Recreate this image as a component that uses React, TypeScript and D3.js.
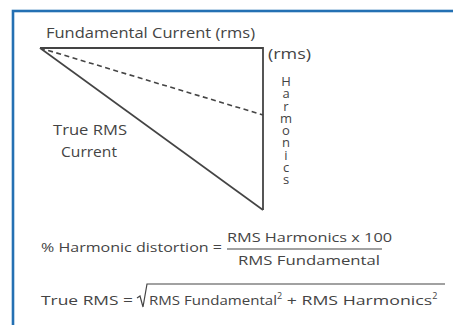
import React from "react";
import * as d3 from "d3";

// Vector magnitudes (relative units; fundamental = 100)
const fundamentalRms = [100];
const harmonicsRms = [72.6];
const dashedHarmonic = [30];
const verticalLabel = ["Harmonics"];
const labels = ["Fundamental Current (rms)", "(rms)", "True RMS", "Current"];
const formulaLabels = ["% Harmonic distortion =", "RMS Harmonics x 100", "RMS Fundamental", "True RMS ="];

const W = 453;
const H = 325;
const FONT = "'Open Sans', Lato, sans-serif";
const INK = "#444";

export default function App() {
  const x = d3.scaleLinear().domain([0, fundamentalRms[0]]).range([40, 263]);
  const y = d3.scaleLinear().domain([0, harmonicsRms[0]]).range([48, 210]);
  const line = d3.line<[number, number]>().x((d) => x(d[0])).y((d) => y(d[1]));

  const F = fundamentalRms[0];
  const Hm = harmonicsRms[0];
  const D = dashedHarmonic[0];

  return (
    <svg width={W} height={H} style={{ position: "absolute", left: 0, top: 0 }}>
      <rect x={0} y={0} width={W} height={H} fill="#fff" />
      <rect x={13} y={11} width={W} height={H} fill="none" stroke="#2470b3" strokeWidth={2.6} />
      {/* triangle */}
      <path d={line([[0, 0], [F, 0], [F, Hm]]) ?? ""} fill="none" stroke={INK} strokeWidth={1.8} />
      <path d={line([[0, 0], [F, Hm]]) ?? ""} fill="none" stroke={INK} strokeWidth={1.6} />
      <path d={line([[0, 0], [F, D]]) ?? ""} fill="none" stroke={INK} strokeWidth={1.6} strokeDasharray="5,3.5" />
      <g fontFamily={FONT} fill={INK}>
        <text x={46} y={38} fontSize={14} textLength={209} lengthAdjust="spacingAndGlyphs">{labels[0]}</text>
        <text x={268} y={59} fontSize={14} textLength={43} lengthAdjust="spacingAndGlyphs">{labels[1]}</text>
        <text
          x={286}
          y={72}
          fontSize={13}
          style={{ writingMode: "vertical-rl", textOrientation: "upright" } as React.CSSProperties}
          textLength={116}
          lengthAdjust="spacing"
        >
          {verticalLabel[0]}
        </text>
        <text x={53} y={135} fontSize={14} textLength={74} lengthAdjust="spacingAndGlyphs">{labels[2]}</text>
        <text x={61} y={157} fontSize={14} textLength={56} lengthAdjust="spacingAndGlyphs">{labels[3]}</text>

        <text x={41} y={252} fontSize={13} textLength={181} lengthAdjust="spacingAndGlyphs">{formulaLabels[0]}</text>
        <text x={227} y={242} fontSize={13} textLength={165} lengthAdjust="spacingAndGlyphs">{formulaLabels[1]}</text>
        <line x1={227} x2={382} y1={249} y2={249} stroke={INK} strokeWidth={1.2} />
        <text x={238} y={265} fontSize={13} textLength={142} lengthAdjust="spacingAndGlyphs">{formulaLabels[2]}</text>

        <text x={41} y={305} fontSize={13} textLength={92} lengthAdjust="spacingAndGlyphs">{formulaLabels[3]}</text>
        <path d="M137 298 L140 296 L143 307 L147 284 L445 284" fill="none" stroke={INK} strokeWidth={1.2} />
        <text x={149} y={305} fontSize={13}>
          <tspan textLength={128} lengthAdjust="spacingAndGlyphs">RMS Fundamental</tspan>
          <tspan fontSize={9} dy={-6}>2</tspan>
          <tspan dy={6} textLength={150} lengthAdjust="spacingAndGlyphs"> + RMS Harmonics</tspan>
          <tspan fontSize={9} dy={-6}>2</tspan>
        </text>
      </g>
    </svg>
  );
}
